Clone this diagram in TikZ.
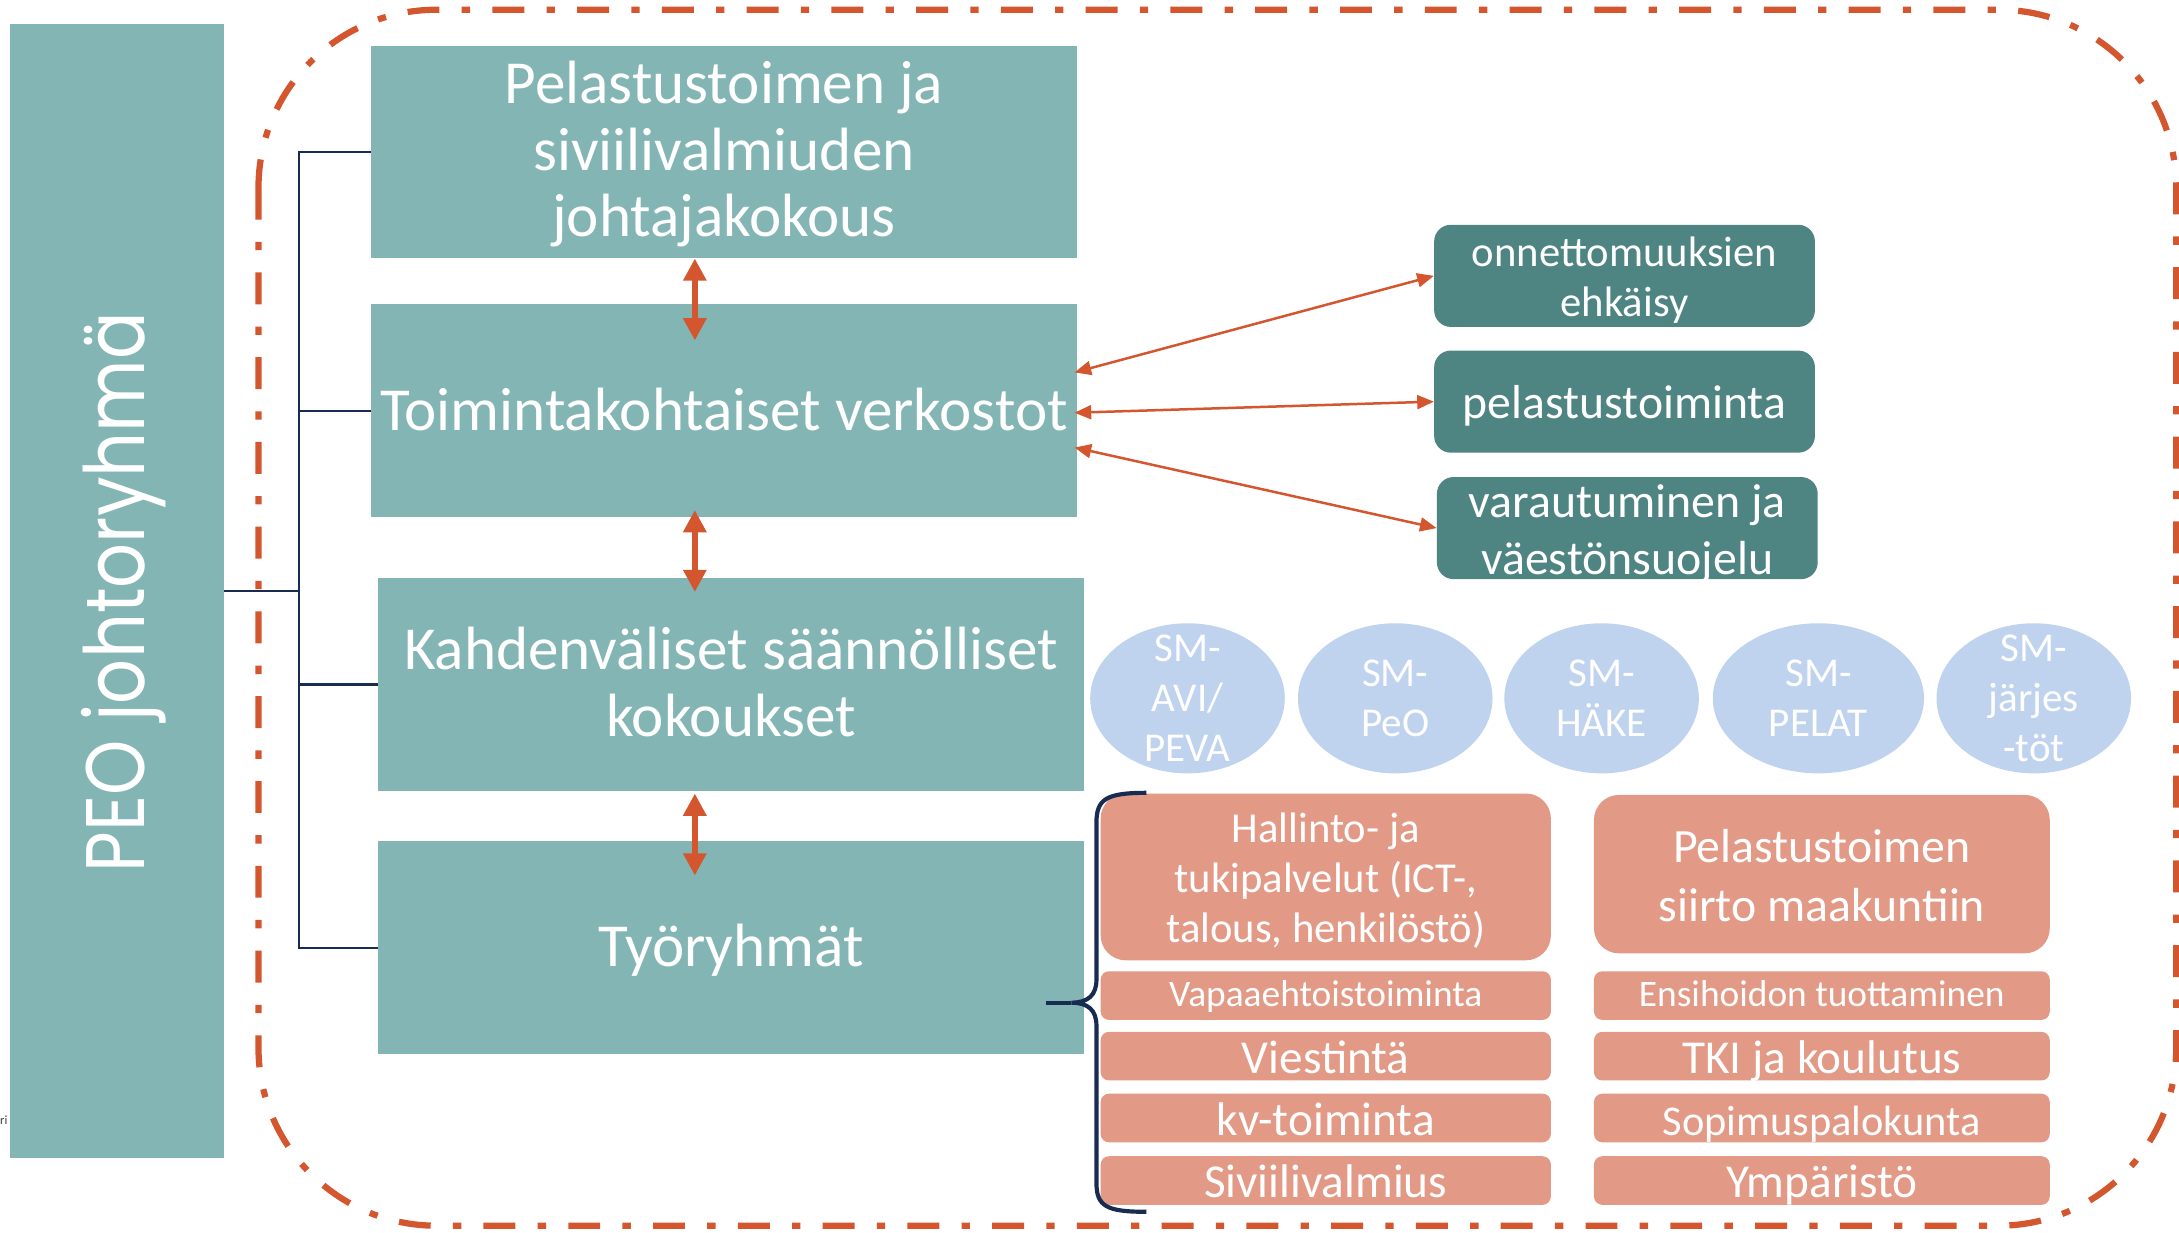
\documentclass[tikz,border=0pt]{standalone}
\usepackage{fontspec}
\setmainfont{Carlito}
\newfontfamily\peofont{Poppins}
\usetikzlibrary{shapes.geometric,arrows.meta,calc}
\definecolor{tealL}{RGB}{130,181,179}
\definecolor{tealD}{RGB}{78,132,129}
\definecolor{ellB}{RGB}{191,211,239}
\definecolor{salm}{RGB}{226,153,134}
\definecolor{navyC}{RGB}{24,44,82}
\definecolor{orangeC}{RGB}{212,86,46}
\newcommand{\fsz}[2]{\fontsize{#1}{#2}\selectfont}
\begin{document}
\begin{tikzpicture}[x=1pt,y=-1pt,
  peobox/.style={fill=tealL, minimum width=153.5pt, minimum height=816pt, inner sep=0},
  bigbox/.style={fill=tealL, minimum width=508pt, minimum height=153pt, inner sep=0},
  lbl/.style={text=white, inner sep=0, align=center},
  biglbl/.style={lbl, font=\fsz{44}{48}},
  dbox/.style={fill=tealD, rounded corners=12pt, minimum width=274pt, minimum height=73.5pt, inner sep=0},
  ell/.style={ellipse, fill=ellB, minimum width=140pt, minimum height=108pt, inner sep=0},
  elllbl/.style={lbl, font=\fsz{29.5}{36}},
  sbig/.style={fill=salm, rounded corners=18pt, inner sep=0},
  ssmall/.style={fill=salm, rounded corners=6pt, text=white, minimum height=35pt, inner sep=0, text height=28pt, text depth=3pt, font=\fsz{34}{40}},
  ssmaller/.style={ssmall, text height=20pt, text depth=4pt, font=\fsz{26.9}{30}},
  conn/.style={draw=navyC, line width=1.6pt},
  vdarrow/.style={draw=orangeC, line width=4pt, {Triangle[width=16pt,length=16pt]}-{Triangle[width=16pt,length=16pt]}},
  tdarrow/.style={draw=orangeC, line width=1.8pt, {Triangle[width=10pt,length=12pt]}-{Triangle[width=10pt,length=12pt]}},
  frame/.style={draw=orangeC, line width=4.5pt, rounded corners=128pt, dash pattern=on 23pt off 16pt on 6pt off 16pt},
  bracestyle/.style={draw=navyC, line width=3pt}
]
\useasboundingbox (0,0) rectangle (1568,887);

% left PEO bar
\node[peobox] (peo) at (84.25,425) {};
\node[rotate=90, anchor=base west, inner sep=0, text=white] (peotext) at (104,628) {\scalebox{1}[1.18]{\resizebox{403pt}{!}{\peofont PEO johtoryhmä}}};
\node[anchor=east, inner sep=0, text=black!75, font=\fsz{9}{10}] (ri) at (5.5,806) {ri};

% main boxes
\node[bigbox] (b1) at (521,109.5) {};
\node[biglbl] (t1) at ($(b1)+(0,1.5)$) {Pelastustoimen ja\\siviilivalmiuden\\johtajakokous};
\node[bigbox] (b2) at (521,295.5) {};
\node[biglbl] (t2) at ($(b2)+(0,-1)$) {Toimintakohtaiset verkostot};
\node[bigbox] (b3) at (526,492.5) {};
\node[biglbl] (t3) at ($(b3)+(0,-2)$) {Kahdenväliset säännölliset\\kokoukset};
\node[bigbox] (b4) at (526,682) {};
\node[biglbl] (t4) at ($(b4)+(0,2)$) {Työryhmät};

% tree connectors
\draw[conn] (peo.east) -- ++(54,0) |- (b1.west);
\draw[conn] (peo.east) -- ++(54,0) |- (b2.west);
\draw[conn] (peo.east) -- ++(54,0) |- (b3.west);
\draw[conn] (peo.east) -- ++(54,0) |- (b4.west);

% vertical arrows
\coordinate (v1t) at (500,186);
\coordinate (v1b) at (500,245);
\coordinate (v2t) at (500,367);
\coordinate (v2b) at (500,426);
\coordinate (v3t) at (500,571);
\coordinate (v3b) at (500,630);
\draw[vdarrow] (v1t) -- (v1b);
\draw[vdarrow] (v2t) -- (v2b);
\draw[vdarrow] (v3t) -- (v3b);

% dark teal boxes
\node[dbox] (bA) at (1169,198.5) {};
\node[lbl, font=\fsz{30.7}{36}] (tA) at ($(bA)+(0,3)$) {onnettomuuksien\\ehkäisy};
\node[dbox] (bB) at (1169,289) {};
\node[lbl, font=\fsz{34.3}{40}] (tB) at ($(bB)+(0,3)$) {pelastustoiminta};
\node[dbox] (bC) at (1171,380) {};
\node[lbl, font=\fsz{34.4}{41}] (tC) at ($(bC)+(0,4)$) {varautuminen ja\\väestönsuojelu};

\draw[tdarrow] ($(b2.east)+(-2,-27.5)$) -- (bA.west);
\draw[tdarrow] ($(b2.east)+(-2,1.5)$) -- (bB.west);
\draw[tdarrow] ($(b2.east)+(-2,26.5)$) -- (bC.west);

% ellipses
\node[ell] (e1) at (854.5,502.5) {};
\node[elllbl] (te1) at (e1) {SM-\\AVI/\\PEVA};
\node[ell] (e2) at (1004,502.5) {};
\node[elllbl] (te2) at (e2) {SM-\\PeO};
\node[ell] (e3) at (1152.5,502.5) {};
\node[elllbl] (te3) at (e3) {SM-\\HÄKE};
\node[ell, minimum width=152pt] (e4) at (1308.5,502.5) {};
\node[elllbl] (te4) at (e4) {SM-\\PELAT};
\node[ell] (e5) at (1463.5,502.5) {};
\node[elllbl] (te5) at (e5) {SM-\\järjes\\-töt};

% salmon boxes
\node[sbig, minimum width=324pt, minimum height=120pt] (l1) at (954,631) {};
\node[lbl, font=\fsz{30.7}{36}] (tl1) at ($(l1)+(0,3)$) {Hallinto- ja\\tukipalvelut (ICT-,\\talous, henkilöstö)};
\node[sbig, minimum width=328pt, minimum height=114pt] (r1) at (1311,629) {};
\node[lbl, font=\fsz{34.4}{42}] (tr1) at ($(r1)+(0,1)$) {Pelastustoimen\\siirto maakuntiin};
\node[ssmaller, minimum width=324pt] (l2) at (954,716.4) {Vapaaehtoistoiminta};
\node[ssmaller, minimum width=328pt] (r2) at (1311,716.4) {Ensihoidon tuottaminen};
\node[ssmall, minimum width=324pt] (l3) at (954,760) {Viestintä};
\node[ssmall, minimum width=328pt] (r3) at (1311,760) {TKI ja koulutus};
\node[ssmall, minimum width=324pt] (l4) at (954,804.5) {kv-toiminta};
\node[ssmall, minimum width=328pt, font=\fsz{30.5}{36}] (r4) at (1311,804.5) {Sopimuspalokunta};
\node[ssmall, minimum width=324pt] (l5) at (954,849.5) {Siviilivalmius};
\node[ssmall, minimum width=328pt] (r5) at (1311,849.5) {Ympäristö};

% brace
\coordinate (btip) at (753,721.5);
\coordinate (bmid) at (771,721.5);
\draw[bracestyle] (825,570.5) .. controls (796,570.5) and (789,575) .. (789,592) -- (789,705)
  .. controls (789,716) and (783,721.5) .. (bmid)
  .. controls (783,721.5) and (789,727) .. (789,738) -- (789,851)
  .. controls (789,868) and (796,872) .. (825,872);
\draw[bracestyle] (bmid) -- (btip);

% dash-dot frame
\draw[frame] (186,7) rectangle (1566,882);
\end{tikzpicture}
\end{document}
